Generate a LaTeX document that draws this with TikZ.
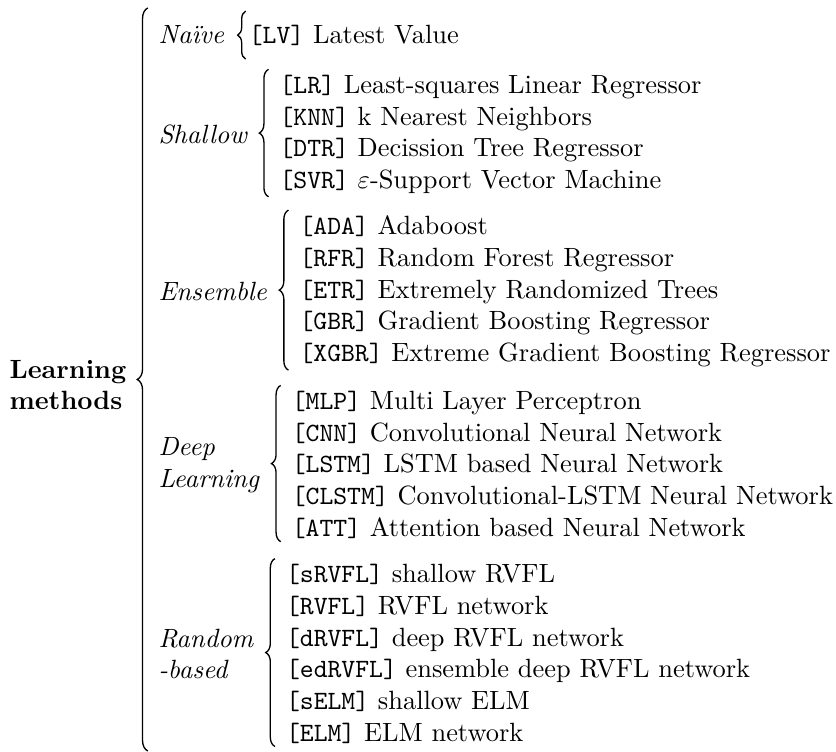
\documentclass[tikz,border=0pt]{standalone}
\usepackage{amsmath}
\usepackage{tikz}
\usetikzlibrary{positioning,decorations.pathreplacing}

\newcommand{\meth}[1]{\texttt{[#1]}}

\begin{document}
\begin{tikzpicture}[
x=1pt, y=1pt,
node distance=12pt,
cat/.style={inner sep=0pt, font=\itshape, align=left, anchor=west},
items/.style={inner sep=0pt, align=left},
brace/.style={decorate, decoration={brace, amplitude=3.5pt}, line width=0.5pt}
]
\useasboundingbox (0,0) rectangle (316.7,-284.8);

% Root label
\node[inner sep=0pt, font=\bfseries, align=left, anchor=west] (learn) at (3.4,-145.8) {Learning\\methods};

% Categories
\node[cat] (naive) at (59.85,-13.3) {Na\"{\i}ve};
\node[cat] (shallow) at (59.85,-50.9) {Shallow};
\node[cat] (ensemble) at (59.85,-110.4) {Ensemble};
\node[cat] (deep) at (59.85,-176.1) {Deep\\Learning};
\node[cat] (random) at (59.85,-247.7) {Random\\-based};

% Methods
\node[items, right=9pt of naive] (naivelist) {\meth{LV} Latest Value};
\node[items, right=of shallow] (shallowlist) {\meth{LR} Least-squares Linear Regressor\\
\meth{KNN} k Nearest Neighbors\\
\meth{DTR} Decission Tree Regressor\\
\meth{SVR} $\varepsilon$-Support Vector Machine};
\node[items, right=of ensemble] (ensemblelist) {\meth{ADA} Adaboost\\
\meth{RFR} Random Forest Regressor\\
\meth{ETR} Extremely Randomized Trees\\
\meth{GBR} Gradient Boosting Regressor\\
\meth{XGBR} Extreme Gradient Boosting Regressor};
\node[items, right=of deep] (deeplist) {\meth{MLP} Multi Layer Perceptron\\
\meth{CNN} Convolutional Neural Network\\
\meth{LSTM} LSTM based Neural Network\\
\meth{CLSTM} Convolutional-LSTM Neural Network\\
\meth{ATT} Attention based Neural Network};
\node[items, right=of random] (randomlist) {\meth{sRVFL} shallow RVFL\\
\meth{RVFL} RVFL network\\
\meth{dRVFL} deep RVFL network\\
\meth{edRVFL} ensemble deep RVFL network\\
\meth{sELM} shallow ELM\\
\meth{ELM} ELM network};

% Braces
\coordinate (rootbot) at (56,-284.5);
\coordinate (roottop) at (56,-3);
\draw[brace, decoration={amplitude=4pt}] (rootbot) -- (roottop);
\draw[brace, decoration={amplitude=3pt}] ([xshift=-1pt,yshift=-5pt]naivelist.south west) -- ([xshift=-1pt,yshift=5pt]naivelist.north west);
\draw[brace] ([xshift=-4pt,yshift=-1pt]shallowlist.south west) -- ([xshift=-4pt,yshift=2pt]shallowlist.north west);
\draw[brace] ([xshift=-4pt,yshift=-1pt]ensemblelist.south west) -- ([xshift=-4pt,yshift=2pt]ensemblelist.north west);
\draw[brace] ([xshift=-4pt,yshift=-1pt]deeplist.south west) -- ([xshift=-4pt,yshift=2pt]deeplist.north west);
\draw[brace] ([xshift=-4pt,yshift=-1pt]randomlist.south west) -- ([xshift=-4pt,yshift=2pt]randomlist.north west);

\end{tikzpicture}
\end{document}
